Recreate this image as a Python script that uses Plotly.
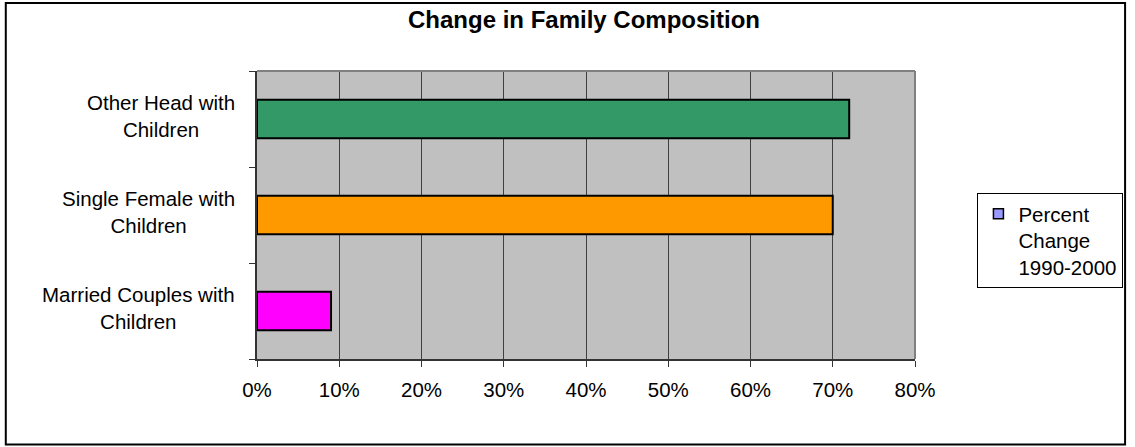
import plotly.graph_objects as go

# Family types, bottom to top, and their percent change 1990-2000
categories = [
    "Married Couples with Children",
    "Single Female with Children",
    "Other Head with Children",
]
category_labels = [
    "Married Couples with<br>Children",
    "Single Female with<br>Children",
    "Other Head with<br>Children",
]
percent_change = [9, 70, 72]
bar_colors = ["#FF00FF", "#FF9900", "#339966"]
series_name = "Percent<br>Change<br>1990-2000"
legend_color = "#9999FF"
x_ticks = [0, 10, 20, 30, 40, 50, 60, 70, 80]
x_tick_labels = ["0%", "10%", "20%", "30%", "40%", "50%", "60%", "70%", "80%"]

W, H = 1135, 447
L, R, T, B = 257, 214, 71, 88
PW, PH = W - L - R, H - T - B


def px_x(p):
    return (p - L) / PW


def px_y(p):
    return (H - B - p) / PH


FONT = "Liberation Sans, Arial, sans-serif"
FS = 20.5

fig = go.Figure()
fig.add_trace(go.Bar(
    y=categories,
    x=percent_change,
    orientation="h",
    width=0.4,
    marker=dict(color=bar_colors, line=dict(color="black", width=2)),
    showlegend=False,
    hoverinfo="x+y",
))
# legend entry for the series
fig.add_trace(go.Scatter(
    x=[None], y=[None], mode="markers", name=series_name,
    marker=dict(symbol="square", size=10, color=legend_color,
                line=dict(color="black", width=1.5)),
    showlegend=True,
))

annotations = []
for cat, lab in zip(categories, category_labels):
    annotations.append(dict(
        x=px_x(237), xref="paper", xanchor="right",
        y=cat, yref="y", yanchor="middle", yshift=3,
        text=lab, align="center", showarrow=False,
        font=dict(family=FONT, size=FS, color="black"),
    ))

shapes = [
    # plot-area top and right edges
    dict(type="line", xref="paper", yref="paper", x0=0, x1=1, y0=1, y1=1,
         line=dict(color="#808080", width=2), layer="above"),
    dict(type="line", xref="paper", yref="paper", x0=1, x1=1, y0=0, y1=1,
         line=dict(color="#808080", width=2), layer="above"),
    # chart frame
    dict(type="rect", xref="paper", yref="paper",
         x0=px_x(3.5), x1=px_x(1133), y0=px_y(444.5), y1=px_y(3),
         line=dict(color="black", width=2), layer="above"),
]

fig.update_layout(
    width=W, height=H,
    margin=dict(l=L, r=R, t=T, b=B, pad=0),
    paper_bgcolor="white",
    plot_bgcolor="#C0C0C0",
    font=dict(family=FONT, size=FS, color="black"),
    title=dict(
        text="<b>Change in Family Composition</b>",
        x=px_x(587), xref="paper", xanchor="center",
        y=1 - 19.5 / H, yref="container", yanchor="middle",
        font=dict(family=FONT, size=24, color="black"),
    ),
    xaxis=dict(
        range=[0, 80], tickmode="array", tickvals=x_ticks, ticktext=x_tick_labels,
        showgrid=True, gridcolor="#404040", gridwidth=1,
        showline=True, linecolor="#333333", linewidth=2,
        ticks="outside", ticklen=6, tickcolor="#333333", tickwidth=1,
        ticklabelstandoff=5,
        tickfont=dict(family=FONT, size=FS, color="black"),
        zeroline=False, fixedrange=True,
    ),
    yaxis=dict(
        type="category", categoryorder="array", categoryarray=categories,
        range=[-0.5, 2.5], tickson="boundaries",
        showticklabels=False, showgrid=False,
        showline=True, linecolor="#333333", linewidth=2,
        ticks="outside", ticklen=6, tickcolor="#333333", tickwidth=1,
        zeroline=False, fixedrange=True,
    ),
    legend=dict(
        x=px_x(984), y=px_y(193), xanchor="left", yanchor="top",
        xref="paper", yref="paper",
        bgcolor="white", bordercolor="black", borderwidth=1,
        valign="top",
        font=dict(family=FONT, size=FS, color="black"),
    ),
    annotations=annotations,
    shapes=shapes,
    bargap=0.6,
)

fig.write_html("out.html")
